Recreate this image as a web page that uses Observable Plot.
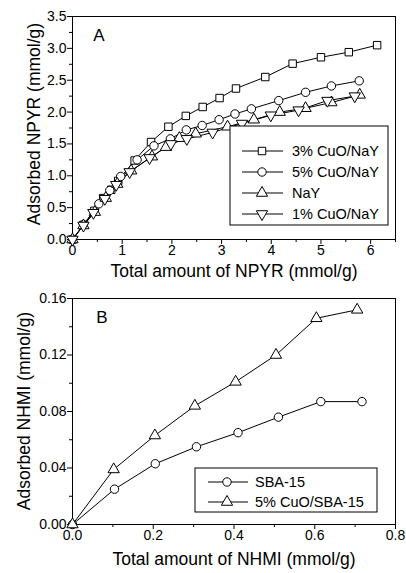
<!DOCTYPE html>
<html><head><meta charset="utf-8">
<script src="https://cdn.jsdelivr.net/npm/d3@7"></script>
<script src="https://cdn.jsdelivr.net/npm/@observablehq/plot@0.6"></script>
<style>
body{margin:0;background:#fff;}
#chart{width:406px;}
#chart svg{display:block;}
</style></head><body><div id="chart"></div>
<script>
// ---------- Panel A data ----------
const seriesA = ["3% CuO/NaY", "5% CuO/NaY", "NaY", "1% CuO/NaY"];
const cu3NaY_x = [0,0.22,0.44,0.62,0.78,0.92,1.25,1.58,1.93,2.28,2.62,2.96,3.29,3.88,4.43,5.0,5.56,6.13];
const cu3NaY_y = [0,0.23,0.45,0.65,0.78,0.92,1.24,1.53,1.77,1.94,2.08,2.22,2.37,2.55,2.76,2.86,2.94,3.05];
const cu5NaY_x = [0,0.22,0.53,0.75,0.97,1.30,1.64,1.97,2.29,2.61,2.95,3.27,3.60,4.15,4.69,5.21,5.77];
const cu5NaY_y = [0,0.23,0.56,0.77,0.99,1.25,1.47,1.58,1.72,1.79,1.88,1.97,2.05,2.18,2.31,2.41,2.49];
const naY_x = [0,0.22,0.45,0.67,0.90,1.18,1.60,1.88,2.15,2.48,3.12,3.65,4.17,4.69,5.21,5.78];
const naY_y = [0,0.22,0.43,0.65,0.87,1.08,1.30,1.45,1.59,1.66,1.77,1.88,2.00,2.06,2.15,2.27];
const cu1NaY_x = [0,0.22,0.42,0.65,0.88,1.15,1.55,1.98,2.30,2.82,3.41,3.99,4.55,5.13,5.68];
const cu1NaY_y = [0,0.22,0.42,0.64,0.86,1.06,1.28,1.50,1.58,1.68,1.82,1.95,2.03,2.18,2.25];
const xTicksA = [0,1,2,3,4,5,6];
const xMinorA = [0.5,1.5,2.5,3.5,4.5,5.5,6.5];
const yTicksA = [0,0.5,1.0,1.5,2.0,2.5,3.0,3.5];
const yMinorA = [0.25,0.75,1.25,1.75,2.25,2.75,3.25];

// ---------- Panel B data ----------
const seriesB = ["SBA-15", "5% CuO/SBA-15"];
const sba_x = [0,0.104,0.205,0.307,0.410,0.510,0.615,0.717];
const sba_y = [0,0.025,0.043,0.055,0.065,0.076,0.087,0.087];
const cuSba_x = [0,0.102,0.204,0.303,0.404,0.504,0.604,0.705];
const cuSba_y = [0,0.039,0.063,0.084,0.101,0.120,0.146,0.152];
const xTicksB = [0,0.2,0.4,0.6,0.8];
const xMinorB = [0.1,0.3,0.5,0.7];
const yTicksB = [0,0.04,0.08,0.12,0.16];
const yMinorB = [0.02,0.06,0.10,0.14];

const FONT = "'Liberation Sans', Arial, sans-serif";
const sqrt3 = Math.sqrt(3);
const triangleDown = {
  draw(context, size) {
    const y = -Math.sqrt(size / (sqrt3 * 3));
    context.moveTo(0, -y * 2);
    context.lineTo(-sqrt3 * y, y);
    context.lineTo(sqrt3 * y, y);
    context.closePath();
  }
};
const symMap = {square: d3.symbolSquare, circle: d3.symbolCircle, triangle: d3.symbolTriangle, triangleDown};

function rows(names, xs, ys) {
  return names.flatMap((s, i) => xs[i].map((x, j) => ({series: s, x, y: ys[i][j]})));
}
const dataA = rows(seriesA, [cu3NaY_x, cu5NaY_x, naY_x, cu1NaY_x], [cu3NaY_y, cu5NaY_y, naY_y, cu1NaY_y]);
const dataB = rows(seriesB, [sba_x, cuSba_x], [sba_y, cuSba_y]);
const symA = ["square", "circle", "triangle", "triangleDown"];
const symB = ["circle", "triangle"];
const R = 4.2;
const TICKFS = 14;
const TITLEFS = 17.5;

function panel(opts) {
  const {data, series, syms, xDom, yDom, xT, xM, yT, yM, xFmt, yFmt, height, mt, mb} = opts;
  const marks = [
    Plot.axisX(xM, {tickSize: 3, tickFormat: () => "", label: null}),
    Plot.axisX(xT, {tickSize: 5, tickPadding: 1, tickFormat: xFmt, label: null, fontSize: TICKFS}),
    Plot.axisY(yM, {tickSize: 3, tickFormat: () => "", label: null}),
    Plot.axisY(yT, {tickSize: 5, tickPadding: 1, tickFormat: yFmt, label: null, fontSize: TICKFS}),
    Plot.frame({stroke: "black", strokeWidth: 1}),
    Plot.line(data, {x: "x", y: "y", z: "series", stroke: "black", strokeWidth: 1})
  ];
  series.forEach((s, i) => {
    marks.push(Plot.dot(data.filter(d => d.series === s), {
      x: "x", y: "y", symbol: symMap[syms[i]], r: R, fill: "white", stroke: "black", strokeWidth: 1
    }));
  });
  return Plot.plot({
    width: 406, height, marginTop: mt, marginBottom: mb, marginLeft: 72, marginRight: 11,
    style: {fontFamily: FONT, fontSize: "14px", background: "white", color: "black", overflow: "visible"},
    x: {domain: xDom, label: null}, y: {domain: yDom, label: null},
    marks
  });
}

function addLegend(svg, series, syms, box, rowYs, lineX, symX, textX, fs) {
  const g = d3.select(svg).append("g");
  g.append("rect").attr("x", box[0]).attr("y", box[1]).attr("width", box[2]).attr("height", box[3])
    .attr("fill", "white").attr("stroke", "black").attr("stroke-width", 1);
  series.forEach((s, i) => {
    const y = rowYs[i];
    g.append("line").attr("x1", lineX[0]).attr("x2", lineX[1]).attr("y1", y).attr("y2", y)
      .attr("stroke", "black").attr("stroke-width", 1);
    g.append("path").attr("d", d3.symbol(symMap[syms[i]], R * R * Math.PI)())
      .attr("transform", `translate(${symX},${y})`).attr("fill", "white").attr("stroke", "black");
    g.append("text").attr("x", textX).attr("y", y).attr("dy", "0.35em")
      .attr("text-anchor", "start")
      .attr("font-family", FONT).attr("font-size", fs).attr("fill", "black").text(s);
  });
}

function addText(svg, txt, x, y, fs, rotate) {
  d3.select(svg).append("text")
    .attr("transform", `translate(${x},${y})` + (rotate ? " rotate(-90)" : ""))
    .attr("text-anchor", "middle").attr("dy", "0.35em")
    .attr("font-family", FONT).attr("font-size", fs).attr("fill", "black").text(txt);
}

const chart = document.getElementById("chart");

// Panel A
const svgA = panel({data: dataA, series: seriesA, syms: symA, xDom: [0, 6.5], yDom: [0, 3.5],
  xT: xTicksA, xM: xMinorA, yT: yTicksA, yM: yMinorA, xFmt: d3.format("d"), yFmt: d3.format(".1f"),
  height: 280, mt: 16, mb: 41});
addLegend(svgA, seriesA, symA, [230, 126, 158, 99], [151, 172, 193, 214], [242, 283], 262, 292, 14.5);
addText(svgA, "A", 99, 35, 17, false);
addText(svgA, "Adsorbed NPYR (mmol/g)", 34, 124, TITLEFS, true);
addText(svgA, "Total amount of NPYR (mmol/g)", 234, 270.5, TITLEFS, false);
chart.appendChild(svgA);

// Panel B
const svgB = panel({data: dataB, series: seriesB, syms: symB, xDom: [0, 0.8], yDom: [0, 0.16],
  xT: xTicksB, xM: xMinorB, yT: yTicksB, yM: yMinorB, xFmt: d3.format(".1f"), yFmt: d3.format(".2f"),
  height: 293, mt: 18, mb: 49});
addLegend(svgB, seriesB, symB, [195, 188, 182, 44], [202, 222], [208, 248], 227, 255, 14.5);
addText(svgB, "B", 102, 37, 17, false);
addText(svgB, "Adsorbed NHMI (mmol/g)", 24, 131, TITLEFS, true);
addText(svgB, "Total amount of NHMI (mmol/g)", 234, 279, TITLEFS, false);
chart.appendChild(svgB);
</script></body></html>
